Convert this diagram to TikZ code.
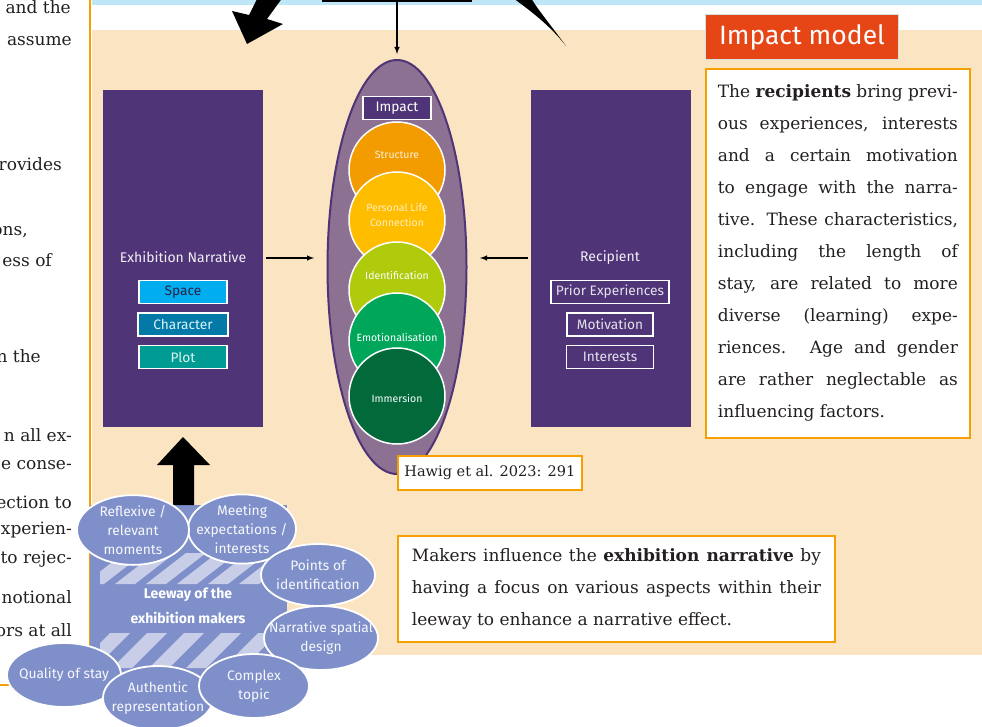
\documentclass[tikz,border=0pt]{standalone}
\usepackage{xcolor}
\usepackage{fontspec}
\setmainfont{DejaVu Serif}
\setsansfont{Fira Sans}
\usepackage{tikz}
\usetikzlibrary{shapes.geometric, arrows, positioning}

\definecolor{beige}{HTML}{FBE4C1}
\definecolor{skyband}{HTML}{BEE6F7}
\definecolor{framing}{HTML}{F5A000}
\definecolor{panelpurple}{HTML}{4F3477}
\definecolor{impactfill}{HTML}{8C7193}
\definecolor{titlered}{HTML}{E64516}
\definecolor{headingedge}{HTML}{CFE3DC}
\definecolor{spacecyan}{HTML}{00AEEF}
\definecolor{charblue}{HTML}{0279A6}
\definecolor{plotteal}{HTML}{009B92}
\definecolor{stageA}{HTML}{F39C00}
\definecolor{stageB}{HTML}{FFBD00}
\definecolor{stageC}{HTML}{AFCB0B}
\definecolor{stageD}{HTML}{00A75B}
\definecolor{stageE}{HTML}{02693A}
\definecolor{leeway}{HTML}{7F8FC9}
\definecolor{leewaystripe}{HTML}{C8CEE7}
\definecolor{inktext}{HTML}{231F20}

\begin{document}
\begin{tikzpicture}[
    x=1pt, y=-1pt,
    node distance=8pt and 10pt,
    panel/.style={
        rectangle,
        fill=panelpurple,
        minimum width=160pt,
        minimum height=337pt,
        inner sep=0pt
    },
    paneltitle/.style={
        text=white!92!panelpurple,
        font=\sffamily\fontsize{14}{16}\selectfont
    },
    tag/.style={
        rectangle, draw=white,
        line width=1.5pt,
        minimum height=23pt,
        inner sep=0pt,
        font=\sffamily\fontsize{13.7}{15}\selectfont
    },
    stage/.style={
        circle, draw=white,
        line width=1.5pt,
        minimum size=96pt,
        inner sep=0pt
    },
    stagelabel/.style={
        text=white,
        align=center,
        font=\sffamily\fontsize{10.5}{15}\selectfont
    },
    aspect/.style={
        ellipse, draw=white,
        line width=1.8pt,
        fill=leeway,
        text=white!94!leeway,
        align=center,
        inner xsep=-22pt, inner ysep=0pt,
        font=\sffamily\fontsize{13.8}{19}\selectfont
    },
    note/.style={
        rectangle, draw=framing,
        line width=1.8pt,
        fill=white,
        text=inktext,
        font=\fontsize{17}{32}\selectfont
    },
    bodyline/.style={
        anchor=base east,
        inner sep=0pt,
        text=inktext,
        font=\fontsize{17}{22}\selectfont
    },
    arrow/.style={->, >=latex, line width=1.4pt}
]
\useasboundingbox (0,0) rectangle (982,727);

% Page background and column rule
\fill[beige] (92,30) rectangle (982,655);
\fill[skyband] (92,0) rectangle (982,5);
\draw[framing, line width=1.5pt] (90,-2) -- (90,685) -- (-2,685);

% Text column on the left
\foreach \txt/\xend/\ybase [count=\i] in {
    and the/71/14, assume/72/46, rovides/62/171, {ons,}/28/236,
    ess of/52/267, n the/41/362, n all ex-/72/441, e conse-/72/469,
    ection to/72/508, xperien-/72/534, to rejec-/72/563,
    notional/72/603, ors at all/72/636}
    \node[bodyline] (col\i) at (\xend,\ybase) {\txt};

% Arrows coming in from the overview above
\node[draw=black, line width=2.5pt, fill=skyband, minimum width=148pt,
      minimum height=30pt, anchor=south] (overview) at (397,2) {};
\fill[black] (258,-3) -- (283,-3) -- (267,19) -- (283,24) -- (247,44)
    -- (232,11) -- (249,15) -- cycle;
\fill[black] (513,-2) .. controls (535,14) and (552,28) .. (566,46)
    .. controls (550,24) and (538,10) .. (531,-2) -- cycle;

% Exhibition narrative
\node[panel, anchor=north west] (narrative) at (103,90) {};
\node[paneltitle] (narrtitle) at (183,257) {Exhibition Narrative};
\node[tag, fill=spacecyan, text=panelpurple!60!black, minimum width=88pt] (space) at (183,292) {Space};
\node[tag, fill=charblue, text=white!85!spacecyan, minimum width=90pt, below=8pt of space] (character) {Character};
\node[tag, fill=plotteal, text=white!88!plotteal, minimum width=88pt, below=8pt of character] (plot) {Plot};

% Recipient
\node[panel, anchor=north west] (recipient) at (531,90) {};
\node[paneltitle] (reciptitle) at (610,258) {Recipient};
\node[tag, fill=panelpurple, text=white!85!panelpurple, minimum width=118pt] (prior) at (610,292) {Prior Experiences};
\node[tag, fill=panelpurple, text=white!85!panelpurple, minimum width=86pt, below=8pt of prior] (motivation) {Motivation};
\node[tag, fill=panelpurple, text=white!85!panelpurple, minimum width=87pt, below=8pt of motivation] (interests) {Interests};

% Impact
\node[ellipse, draw=panelpurple, line width=2pt, fill=impactfill,
      minimum width=139pt, minimum height=414pt] (impactzone) at (397,267) {};
\node[stage, fill=stageA] (structure) at (397,170) {};
\node[stagelabel, text=white!85!stageA] (structuretxt) at (397,155) {Structure};
\node[stage, fill=stageB] (personal) at (397,220) {};
\node[stagelabel, text=white!75!stageB] (personaltxt) at (397,215) {Personal Life\\Connection};
\node[stage, fill=stageC] (identification) at (397,290) {};
\node[stagelabel] (identificationtxt) at (397,275) {Identification};
\node[stage, fill=stageD] (emotion) at (397,341) {};
\node[stagelabel] (emotiontxt) at (397,337) {Emotionalisation};
\node[stage, fill=stageE] (immersion) at (397,396) {};
\node[stagelabel] (immersiontxt) at (397,398) {Immersion};
\node[tag, fill=panelpurple, text=white, minimum width=68pt] (impact) at (397,108) {Impact};

% Arrows into the impact
\coordinate (intoleft) at (314,258);
\coordinate (intoright) at (480,258);
\draw[arrow, shorten <=3pt] (narrative.east |- intoleft) -- (intoleft);
\draw[arrow, shorten <=3pt] (recipient.west |- intoright) -- (intoright);
\draw[arrow, shorten >=5pt] (overview.south) -- (impactzone.north);

% Notes
\node[rectangle, fill=titlered, draw=headingedge, line width=1.5pt,
      minimum width=193pt, minimum height=45pt, text=white,
      font=\sffamily\fontsize{26.5}{28}\selectfont] (heading) at (802,37) {Impact model};
\node[note, text width=240pt, inner xsep=12pt, minimum height=369pt,
      align=justify, anchor=north west] (recipnote) at (705,68)
    {The \textbf{recipients} bring previ-\linebreak ous experiences, interests\linebreak
     and a certain motivation\linebreak to engage with the narra-\linebreak
     tive. These characteristics,\linebreak including the length of\linebreak
     stay, are related to more\linebreak diverse (learning) expe-\linebreak
     riences. Age and gender\linebreak are rather neglectable as\linebreak
     influencing factors.};
\node[note, font=\fontsize{14.5}{20}\selectfont, minimum width=184pt,
      minimum height=34pt, anchor=north west] (citation) at (397,455) {Hawig et al. 2023: 291};
\node[note, text width=409pt, inner xsep=14pt, minimum height=106pt,
      align=justify, anchor=north west] (makersnote) at (397,535)
    {Makers influence the \textbf{exhibition narrative} by\linebreak
     having a focus on various aspects within their\linebreak
     leeway to enhance a narrative effect.};

% Leeway of the exhibition makers
\node[rectangle, fill=leeway, minimum width=197pt, minimum height=185pt,
      inner sep=0pt, anchor=north west] (leewayarea) at (90,505) {};
\begin{scope}
    \clip (100,553) rectangle (282,584);
    \foreach \x in {84,115,...,270}
        \fill[leewaystripe] (\x,584) -- ++(20,0) -- ++(40,-31) -- ++(-20,0) -- cycle;
\end{scope}
\begin{scope}
    \clip (100,633) rectangle (282,668);
    \foreach \x in {75,112,...,270}
        \fill[leewaystripe] (\x,668) -- ++(20,0) -- ++(35,-35) -- ++(-20,0) -- cycle;
\end{scope}
\node[text=white, align=center, font=\sffamily\bfseries\fontsize{14}{25}\selectfont]
    (leewaytxt) at (188,606) {Leeway of the\\exhibition makers};
\fill[black] (173,505) -- (173,465) -- (157,465) -- (183,437) -- (210,465)
    -- (194,465) -- (194,505) -- cycle;

\node[aspect, minimum width=108pt, minimum height=64pt] (meeting) at (242,529) {Meeting\\expectations /\\interests};
\node[aspect, minimum width=112pt, minimum height=58pt] (reflexive) at (133,530) {Reflexive /\\relevant\\moments};
\node[aspect, minimum width=114pt, minimum height=62pt] (pointsid) at (318,575) {Points of\\identification};
\node[aspect, minimum width=114pt, minimum height=64pt] (spatial) at (321,638) {Narrative spatial\\design};
\node[aspect, minimum width=114pt, minimum height=64pt] (quality) at (64,675) {Quality of stay};
\node[aspect, minimum width=110pt, minimum height=64pt] (authentic) at (158,698) {Authentic\\representation};
\node[aspect, minimum width=110pt, minimum height=64pt] (complex) at (254,686) {Complex\\topic};

\end{tikzpicture}
\end{document}
